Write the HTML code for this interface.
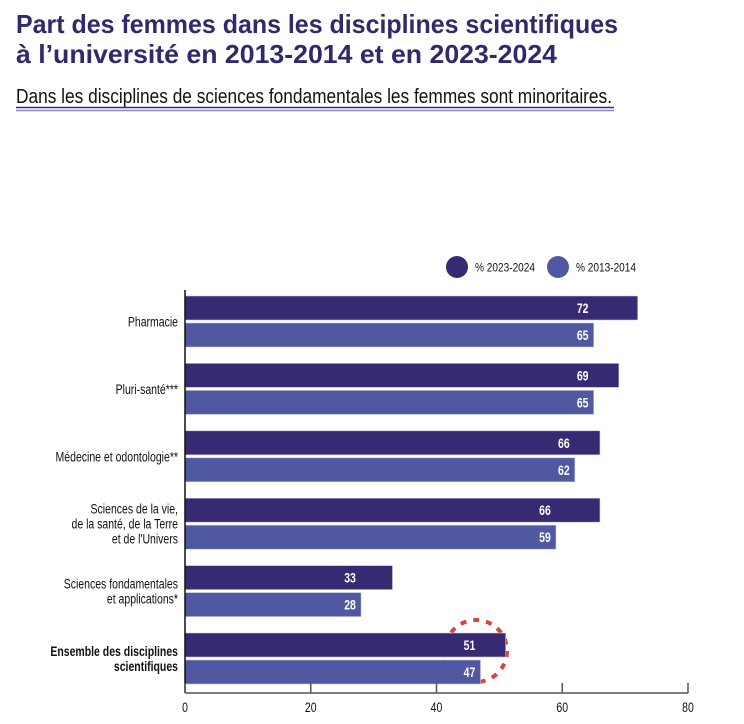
<!DOCTYPE html>
<html><head><meta charset="utf-8"><style>
html,body{margin:0;padding:0;background:#fff;}
svg{display:block;}
text{font-family:"Liberation Sans",sans-serif;}
</style></head><body>
<svg id="chart" width="744" height="724" viewBox="0 0 744 724" xmlns="http://www.w3.org/2000/svg">
<text x="16" y="33" font-weight="bold" font-size="26" fill="#2f2a6b" textLength="602" lengthAdjust="spacingAndGlyphs">Part des femmes dans les disciplines scientifiques</text>
<text x="16" y="63" font-weight="bold" font-size="26" fill="#2f2a6b" textLength="541" lengthAdjust="spacingAndGlyphs">à l’université en 2013-2014 et en 2023-2024</text>
<text x="16" y="103" font-size="20" fill="#111" textLength="596" lengthAdjust="spacingAndGlyphs">Dans les disciplines de sciences fondamentales les femmes sont minoritaires.</text>
<line x1="16" y1="107.5" x2="614" y2="107.5" stroke="#372a72" stroke-width="1.5"/>
<line x1="16" y1="110.5" x2="614" y2="110.5" stroke="#8a86c4" stroke-width="1.5"/>
<g id="legend">
<circle cx="457" cy="267" r="11" fill="#372a72"/>
<text x="475" y="271.5" font-size="12" fill="#111" textLength="60" lengthAdjust="spacingAndGlyphs">% 2023-2024</text>
<circle cx="558" cy="267" r="11" fill="#5058a2"/>
<text x="576" y="271.5" font-size="12" fill="#111" textLength="60" lengthAdjust="spacingAndGlyphs">% 2013-2014</text>
</g>
<circle cx="476" cy="651" r="31" fill="none" stroke="#d9443a" stroke-width="4" stroke-dasharray="6 7"/>
<g id="plot"></g>
</svg>
<script>
const categories = [["Pharmacie"],["Pluri-santé***"],["Médecine et odontologie**"],["Sciences de la vie,","de la santé, de la Terre","et de l'Univers"],["Sciences fondamentales","et applications*"],["Ensemble des disciplines","scientifiques"]];
const values2023 = [72,69,66,66,33,51];
const values2013 = [65,65,62,59,28,47];
const ticks = [0,20,40,60,80];

const NS="http://www.w3.org/2000/svg";
const g=document.getElementById('plot');
const x0=185, x1=688, xMax=80;
const xs=v=>x0+(x1-x0)*v/xMax;
const top0=296, step=67.4, bh=24, gap=3, SX=0.75;
function mk(tag,attrs,parent){const e=document.createElementNS(NS,tag);for(const k in attrs)e.setAttribute(k,attrs[k]);(parent||g).appendChild(e);return e;}
function ntext(x,y,txt,attrs){const t=mk('text',Object.assign({x:0,y:0,transform:'translate('+x+','+y+') scale('+SX+',1)'},attrs));t.textContent=txt;return t;}
categories.forEach((cat,i)=>{
  const y=top0+i*step;
  const b1=mk('rect',{x:x0,y:y,width:xs(values2023[i])-x0,height:bh,fill:'#372a72',stroke:'#c9c6e2','stroke-width':0.6});
  
  
  const b2=mk('rect',{x:x0,y:y+bh+gap,width:xs(values2013[i])-x0,height:bh,fill:'#5058a2',stroke:'#c9c6e2','stroke-width':0.6});
  
  
  const lx=xs(values2013[i])-11;
  const t1=ntext(lx,y+17,values2023[i],{'text-anchor':'middle','font-size':14,'font-weight':'bold',fill:'#fff'});
  
  
  const t2=ntext(lx,y+bh+gap+17,values2013[i],{'text-anchor':'middle','font-size':14,'font-weight':'bold',fill:'#fff'});
  
  
  const cy=y+bh+gap/2, lh=15, n=cat.length;
  cat.forEach((line,j)=>{
    const t=ntext(178,cy+5+(j-(n-1)/2)*lh,line,{'text-anchor':'end','font-size':14,fill:'#111','font-weight':i===categories.length-1?'bold':'normal'});
    
    
  });
});
const yl=mk('line',{x1:x0,y1:290,x2:x0,y2:693,stroke:'#111','stroke-width':1.5});


const xl=mk('line',{x1:x0,y1:693,x2:x1,y2:693,stroke:'#555','stroke-width':1.5});


ticks.forEach(v=>{
  const tk=mk('line',{x1:xs(v),y1:683,x2:xs(v),y2:693,stroke:'#555','stroke-width':1.5});
  
  
  const tl=ntext(xs(v),712,v,{'text-anchor':'middle','font-size':14,fill:'#111'});
  
  
});
</script>
</body></html>
